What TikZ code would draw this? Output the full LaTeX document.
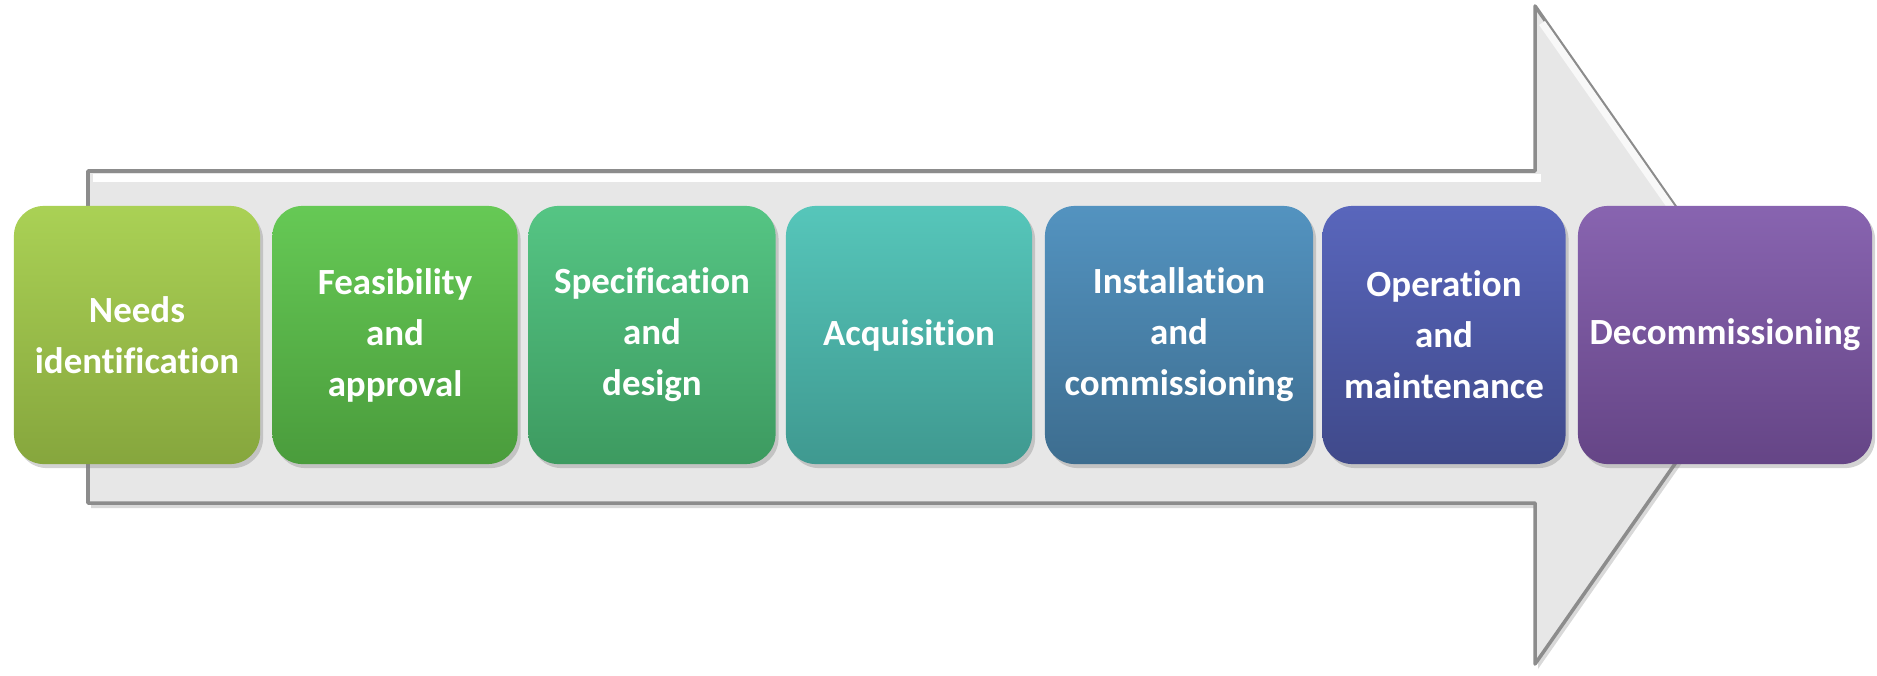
\documentclass[tikz,border=0pt]{standalone}
\usepackage{fontspec}
\setmainfont[Ligatures=NoCommon]{Carlito}
\usetikzlibrary{shadows}

\definecolor{needsT}{HTML}{AAD155}
\definecolor{needsB}{HTML}{86A63D}
\definecolor{feasT}{HTML}{66C955}
\definecolor{feasB}{HTML}{4A9C3C}
\definecolor{specT}{HTML}{55C584}
\definecolor{specB}{HTML}{3D9A60}
\definecolor{acqT}{HTML}{56C6BA}
\definecolor{acqB}{HTML}{3F9990}
\definecolor{instT}{HTML}{5393C0}
\definecolor{instB}{HTML}{3D6D8F}
\definecolor{operT}{HTML}{5966BC}
\definecolor{operB}{HTML}{3F498A}
\definecolor{decoT}{HTML}{8864B0}
\definecolor{decoB}{HTML}{654586}

\begin{document}
\begin{tikzpicture}[x=0.01cm,y=0.01cm,line join=round,
    stage/.style={rounded corners=0.3cm,minimum height=2.58cm,inner sep=0pt,
      align=center,text=white,font=\fontsize{10.5}{14.5}\selectfont\bfseries,
      drop shadow={opacity=0.35,shadow xshift=0.03cm,shadow yshift=-0.04cm}}]
  \useasboundingbox (0,0) rectangle (1877,675);
  % big grey arrow behind the stages
  \draw[black!45,line width=1pt,fill=gray!19,
    drop shadow={opacity=0.3,shadow xshift=0.03cm,shadow yshift=-0.05cm}]
    (88,504) -- (1535,504) -- (1535,669) -- (1765,340) -- (1535,11)
    -- (1535,172) -- (88,172) -- cycle;
  % light bevel along the upper edges
  \draw[white,line width=2.5pt] (93,497) -- (1541,497);
  \draw[white!70!gray!19,line width=2pt] (1542,652) -- (1745,362);
  % the stages, left to right
  \node[stage,minimum width=2.46cm,top color=needsT,bottom color=needsB] (needs) at (137,340) {Needs\\identification};
  \node[stage,minimum width=2.45cm,top color=feasT,bottom color=feasB] (feas) at (395,340) {Feasibility\\and\\approval};
  \node[stage,minimum width=2.47cm,top color=specT,bottom color=specB] (spec) at (652,340) {Specification\\and\\design};
  \node[stage,minimum width=2.46cm,top color=acqT,bottom color=acqB] (acq) at (909,340) {Acquisition};
  \node[stage,minimum width=2.68cm,top color=instT,bottom color=instB] (inst) at (1179,340) {Installation\\and\\commissioning};
  \node[stage,minimum width=2.43cm,top color=operT,bottom color=operB] (oper) at (1444,340) {Operation\\and\\maintenance};
  \node[stage,minimum width=2.94cm,top color=decoT,bottom color=decoB] (deco) at (1725,340) {Decommissioning};
\end{tikzpicture}
\end{document}
